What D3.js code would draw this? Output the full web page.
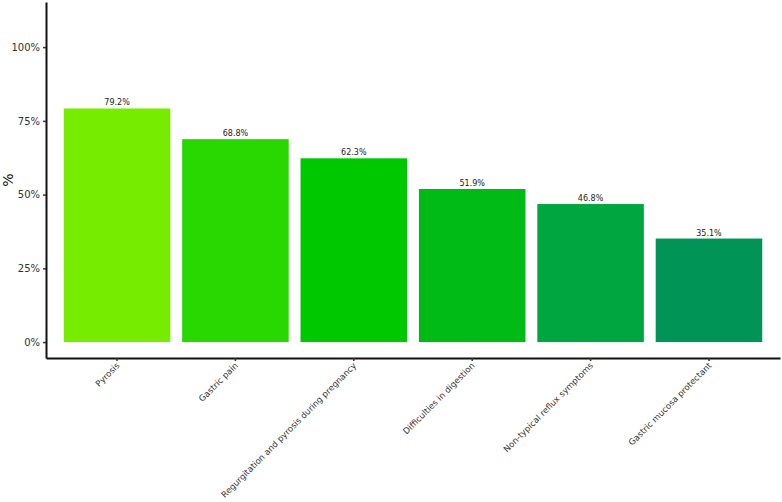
<!DOCTYPE html>
<html>
<head>
<meta charset="utf-8">
<script src="https://cdn.jsdelivr.net/npm/d3@7"></script>
<style>
  body { margin: 0; background: #fff; }
  svg { display: block; font-family: "DejaVu Sans", sans-serif; }
</style>
</head>
<body>
<div class="bar-chart-container"></div>
<script>
// 資料
const categories = ['Pyrosis', 'Gastric pain', 'Regurgitation and pyrosis during pregnancy',
    'Difficulties in digestion', 'Non-typical reflux symptoms', 'Gastric mucosa protectant'];
const values = [79.2, 68.8, 62.3, 51.9, 46.8, 35.1];
const barColors = ['#76EC00', '#28D800', '#00C800', '#00BB16', '#00A640', '#009556'];
const yTicks = [0, 25, 50, 75, 100];

const svg_width = 782;
const svg_height = 502;

const svg = d3.select('.bar-chart-container')
    .append('svg')
    .attr('width', svg_width).attr('height', svg_height);

// x: ggplot 風格 (兩側各留 0.6 個單位)
const xScale = d3.scaleBand()
    .domain(categories)
    .range([46, 780])
    .paddingInner(0.1)
    .paddingOuter(0.15);

const yScale = d3.scaleLinear()
    .domain([-5.4, 115.3])
    .range([358, 2]);

// bars
svg.append('g').selectAll('rect')
    .data(values).enter()
    .append('rect')
    .attr('x', (d, i) => xScale(categories[i]))
    .attr('width', xScale.bandwidth())
    .attr('y', d => yScale(d))
    .attr('height', d => yScale(0) - yScale(d))
    .style('fill', (d, i) => barColors[i]);

// value labels
svg.append('g').selectAll('text')
    .data(values).enter()
    .append('text')
    .attr('x', (d, i) => xScale(categories[i]) + xScale.bandwidth() / 2)
    .attr('y', d => yScale(d) - 3)
    .attr('text-anchor', 'middle')
    .style('font-size', '8px')
    .style('fill', '#222')
    .text(d => d.toFixed(1) + '%');

// y axis
const yAxis = d3.axisLeft(yScale)
    .tickValues(yTicks)
    .tickFormat(d => d + '%')
    .tickSizeInner(3).tickSizeOuter(0).tickPadding(3);
const yG = svg.append('g')
    .attr('transform', 'translate(46,0)')
    .call(yAxis);
yG.select('.domain').attr('stroke', '#111').attr('stroke-width', 2);
yG.selectAll('.tick line').attr('stroke', '#333').attr('stroke-width', 1.5);
yG.selectAll('.tick text').style('font-size', '10px').style('fill', '#333')
    .style('font-family', '"DejaVu Sans", sans-serif');

// x axis
const xAxis = d3.axisBottom(xScale).tickSizeInner(3).tickSizeOuter(0).tickPadding(2);
const xG = svg.append('g')
    .attr('transform', 'translate(0,358)')
    .call(xAxis);
xG.select('.domain').attr('stroke', '#111').attr('stroke-width', 2);
xG.selectAll('.tick line').attr('stroke', '#333').attr('stroke-width', 1.5);
xG.selectAll('.tick text')
    .style('font-size', '8.5px').style('fill', '#333')
    .style('font-family', '"DejaVu Sans", sans-serif')
    .attr('text-anchor', 'end')
    .attr('dy', '0.35em')
    .attr('transform', 'translate(1,6) rotate(-45)')
    .attr('y', 0).attr('x', 0);

// y title
svg.append('text')
    .attr('transform', 'translate(13,180) rotate(-90)')
    .attr('text-anchor', 'middle')
    .style('font-size', '14px')
    .style('fill', '#111')
    .text('%');
</script>
</body>
</html>
